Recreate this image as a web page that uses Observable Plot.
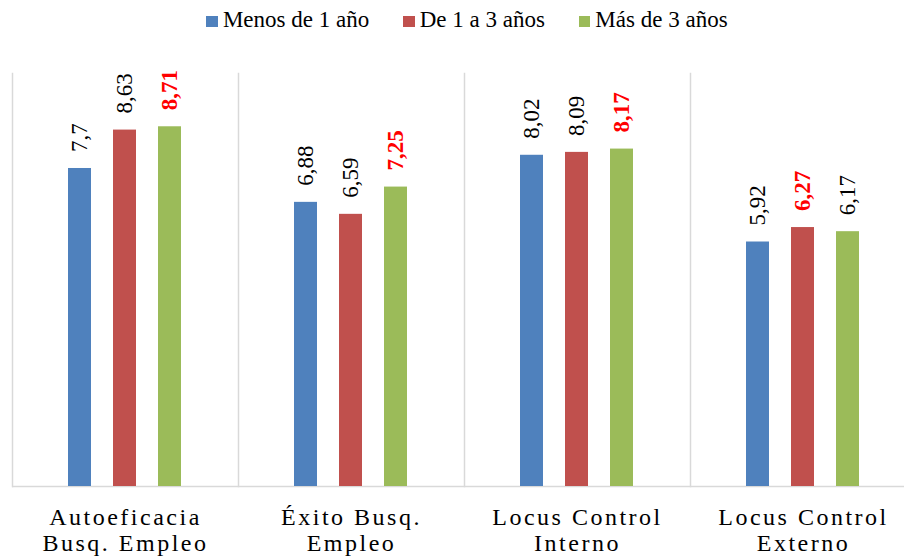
<!DOCTYPE html>
<html>
<head>
<meta charset="utf-8">
<script src="https://cdn.jsdelivr.net/npm/d3@7"></script>
<script src="https://cdn.jsdelivr.net/npm/@observablehq/plot@0.6"></script>
<style>
  html, body { margin: 0; padding: 0; background: #fff; overflow: hidden; }
  #legend { height: 40px; line-height: 40px; display: flex; justify-content: center; padding-left: 30px; width: 874px;
    font-family: 'Liberation Serif'; font-size: 23px; color: #000; white-space: nowrap; }
  #legend .item { margin: 0 17px; font-family: 'Liberation Serif'; }
  #legend .sw { display: inline-block; width: 11.5px; height: 11.5px; margin-right: 5px; vertical-align: baseline; }
  #chart { width: 917px; }
  #chart svg { max-width: none !important; }
  #chart svg text { font-family: 'Liberation Serif'; }
  #chart svg g[aria-label="fx-axis tick label"] text { letter-spacing: 2.5px; }
</style>
</head>
<body>
<div id="legend"></div>
<div id="chart"></div>
<script>
const categories = ["Autoeficacia\nBusq. Empleo", "Éxito Busq.\nEmpleo", "Locus Control\nInterno", "Locus Control\nExterno"];
const series = ["Menos de 1 año", "De 1 a 3 años", "Más de 3 años"];
const colors = ["#4f81bd", "#c0504d", "#9bbb59"];
const valuesMenos1 = [7.7, 6.88, 8.02, 5.92];
const values1a3 = [8.63, 6.59, 8.09, 6.27];
const valuesMas3 = [8.71, 7.25, 8.17, 6.17];

const seriesValues = [valuesMenos1, values1a3, valuesMas3];
const data = [];
categories.forEach((c, i) => {
  const vals = seriesValues.map(v => v[i]);
  const mx = Math.max(...vals);
  series.forEach((s, j) => {
    data.push({category: c, series: s, value: vals[j], isMax: vals[j] === mx, label: String(vals[j]).replace(".", ",")});
  });
});

const legend = document.getElementById("legend");
series.forEach((s, j) => {
  const it = document.createElement("span");
  it.className = "item";
  it.innerHTML = `<span class="sw" style="background:${colors[j]}"></span>${s}`;
  legend.appendChild(it);
});

const font = "Liberation Serif";
const plot = Plot.plot({
  width: 917,
  height: 516,
  marginTop: 33,
  marginBottom: 70,
  marginLeft: 11,
  marginRight: 0,
  style: {fontFamily: font, background: "#fff", overflow: "visible", maxWidth: "none"},
  fx: {domain: categories, padding: 0, label: null},
  x: {domain: series, paddingInner: 0.478, paddingOuter: 1.202, axis: null},
  y: {domain: [0, 10], axis: null},
  color: {domain: series, range: colors},
  marks: [
    Plot.frame({anchor: "left", stroke: "#d9d9d9", strokeWidth: 1.5}),
    Plot.ruleY([0], {stroke: "#d9d9d9", strokeWidth: 1.5}),
    Plot.barY(data, {fx: "category", x: "series", y: "value", fill: "series"}),
    Plot.text(data.filter(d => !d.isMax), {fx: "category", x: "series", y: "value", text: "label", rotate: -90,
      textAnchor: "start", dy: -16.5, fontSize: 23, fontFamily: font, fill: "#000"}),
    Plot.text(data.filter(d => d.isMax), {fx: "category", x: "series", y: "value", text: "label", rotate: -90,
      textAnchor: "start", dy: -16.5, fontSize: 23, fontFamily: font, fill: "#ff0000", fontWeight: "bold"}),
    Plot.axisFx({anchor: "bottom", tickSize: 0, tickPadding: 20, fontSize: 24, fontFamily: font, lineHeight: 1.08, label: null, fill: "#000"})
  ]
});
document.getElementById("chart").appendChild(plot);
</script>
</body>
</html>
